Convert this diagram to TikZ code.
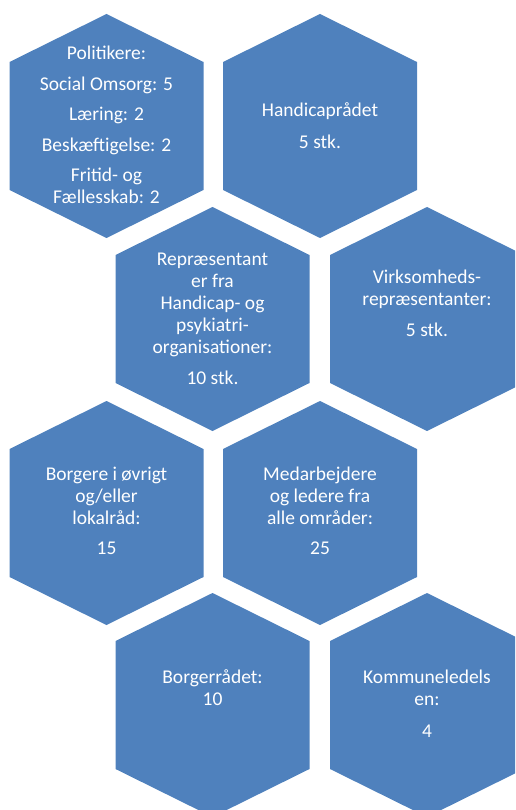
\documentclass[tikz,border=0pt]{standalone}
\usepackage{fontspec}
\setmainfont{Carlito}
\definecolor{hexblue}{HTML}{4F81BD}
\tikzset{
  hexfill/.style={fill=hexblue},
  hextext/.style={text=white, align=center, inner sep=0pt,
    font=\fontsize{19.5}{22}\selectfont},
}
\newcommand\hexagonat[1]{%
  \fill[hexfill] (#1) +(0,112) -- +(97,64) -- +(97,-64) -- +(0,-112) -- +(-97,-64) -- +(-97,64) -- cycle;}
\begin{document}
\begin{tikzpicture}[x=1pt,y=1pt]
\useasboundingbox (0,0) rectangle (515,-810);
\begin{scope}
\clip (0,0) rectangle (515,-810);
\coordinate (c1) at (106.5,-126);
\coordinate (c2) at (320,-126);
\coordinate (c3) at (212.5,-319);
\coordinate (c4) at (427,-319);
\coordinate (c5) at (106.5,-513);
\coordinate (c6) at (320,-513);
\coordinate (c7) at (212.5,-705);
\coordinate (c8) at (427,-705);
\hexagonat{c1}\hexagonat{c2}\hexagonat{c3}\hexagonat{c4}
\hexagonat{c5}\hexagonat{c6}\hexagonat{c7}\hexagonat{c8}
\end{scope}
\node[hextext] (t1) at (106.5,-125) {Politikere:\\[8.5pt]Social Omsorg: 5\\[8.5pt]Læring: 2\\[8.5pt]Beskæftigelse: 2\\[8.5pt]Fritid- og\\Fællesskab: 2};
\node[hextext] (t2) at (320,-126) {Handicaprådet\\[10pt]5 stk.};
\node[hextext] (t3) at (212.5,-318.5) {Repræsentant\\er fra\\Handicap- og\\psykiatri-\\organisationer:\\[9pt]10 stk.};
\node[hextext] (t4) at (427,-303.5) {Virksomheds-\\repræsentanter:\\[9pt]5 stk.};
\node[hextext] (t5) at (106.5,-510.5) {Borgere i øvrigt\\og/eller\\lokalråd:\\[8pt]15};
\node[hextext] (t6) at (320,-510.5) {Medarbejdere\\og ledere fra\\alle områder:\\[8pt]25};
\node[hextext] (t7) at (212.5,-688) {Borgerrådet:\\10};
\node[hextext] (t8) at (427,-704) {Kommuneledels\\en:\\[10pt]4};
\end{tikzpicture}
\end{document}
